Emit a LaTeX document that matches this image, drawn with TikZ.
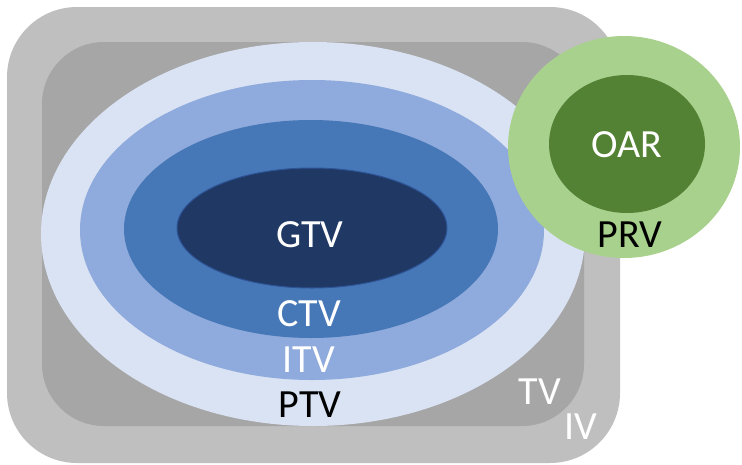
\documentclass[tikz,border=0pt]{standalone}
\usepackage{fontspec}
\setmainfont{Carlito}
\definecolor{ivgray}{HTML}{BFBFBF}
\definecolor{tvgray}{HTML}{A6A6A6}
\definecolor{ptvblue}{HTML}{DAE3F3}
\definecolor{itvblue}{HTML}{8FAADC}
\definecolor{ctvblue}{HTML}{4677B6}
\definecolor{gtvblue}{HTML}{1F3864}
\definecolor{gtvedge}{HTML}{2F5597}
\definecolor{prvgreen}{HTML}{A9D18E}
\definecolor{oargreen}{HTML}{548235}
\begin{document}
\begin{tikzpicture}[x=1pt,y=-1pt,
  lbl/.style={inner sep=0pt,font=\fontsize{40}{44}\selectfont},
  lbllight/.style={lbl,text=white},
  lbldark/.style={lbl,text=black}]
\useasboundingbox (0,0) rectangle (742,464);
% irradiated and treated volumes
\fill[ivgray,rounded corners=70pt] (7,7) rectangle (620,463);
\fill[tvgray,rounded corners=62pt] (42,42) rectangle (584,426);
% nested target volumes
\fill[ptvblue] (313,234) ellipse [x radius=272, y radius=192];
\fill[itvblue] (312,230) ellipse [x radius=232, y radius=150];
\fill[ctvblue] (311,229) ellipse [x radius=187, y radius=109];
\filldraw[fill=gtvblue,draw=gtvedge,line width=1pt] (312,228) ellipse [x radius=135, y radius=60];
% organ at risk with its planning margin
\fill[prvgreen] (624,147) ellipse [x radius=116, y radius=111];
\fill[oargreen] (627,144) ellipse [x radius=78, y radius=69];
% labels
\node[lbllight] (gtv) at (310,235) {GTV};
\node[lbllight] (ctv) at (309,314) {CTV};
\node[lbllight] (itv) at (309,360) {ITV};
\node[lbldark]  (ptv) at (310,405) {PTV};
\node[lbllight] (tv)  at (540,392) {TV};
\node[lbllight] (iv)  at (581,427) {IV};
\node[lbllight] (oar) at (627,145) {OAR};
\node[lbldark]  (prv) at (630,235) {PRV};
\end{tikzpicture}
\end{document}
